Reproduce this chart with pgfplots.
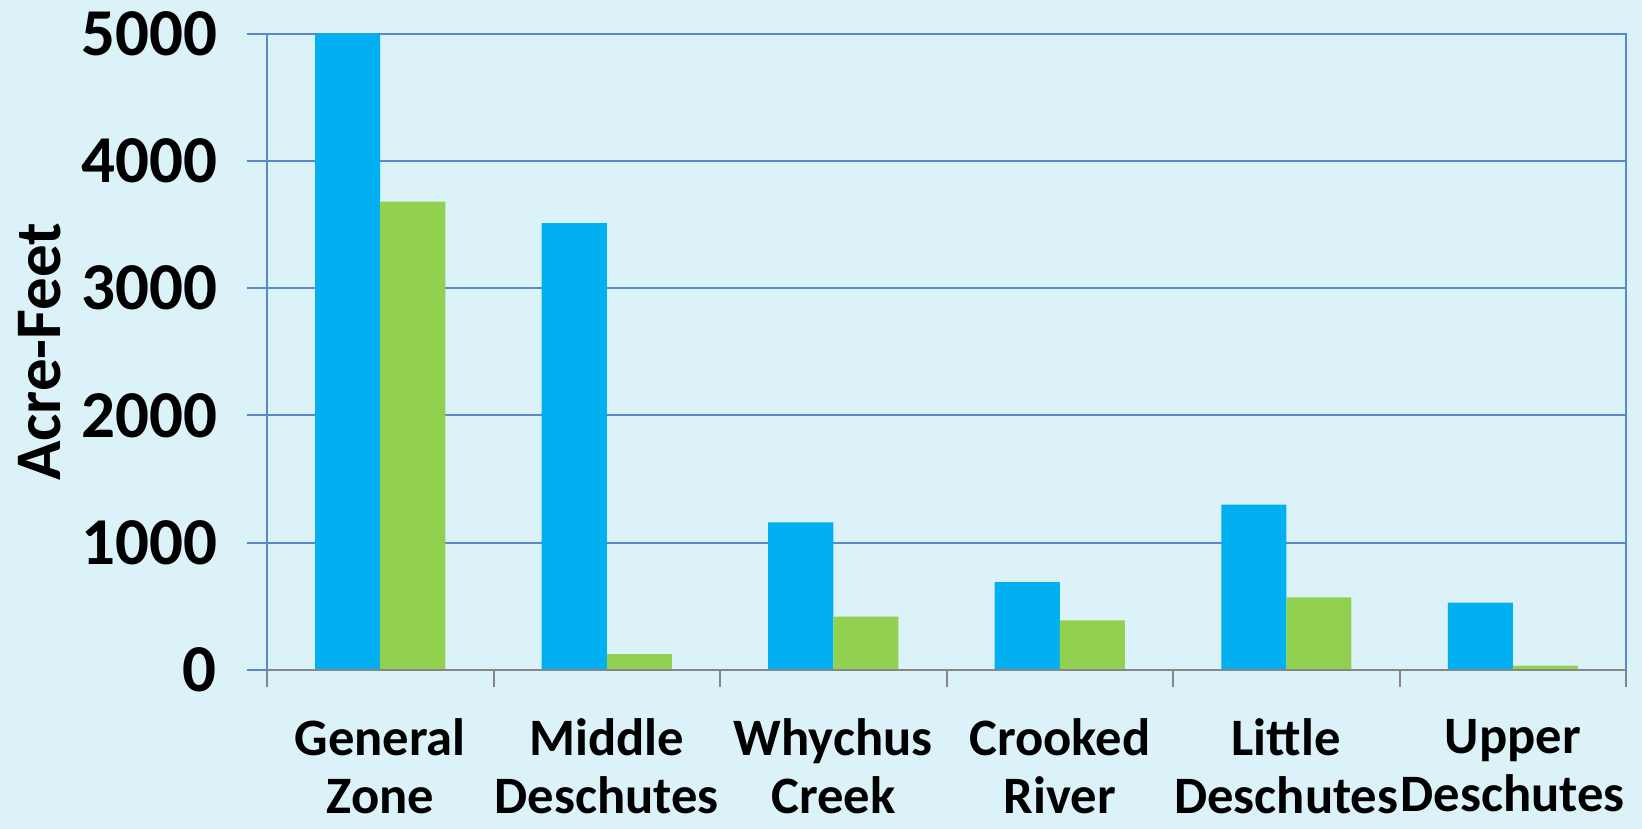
\documentclass[border=0pt]{standalone}
\usepackage{pgfplots}
\pgfplotsset{compat=1.18}
\usepackage{fontspec}
\setmainfont{Carlito}
\definecolor{bg}{HTML}{DBF3F8}
\definecolor{barblue}{HTML}{00B0F0}
\definecolor{bargreen}{HTML}{92D050}
\definecolor{gridblue}{HTML}{5A8AC6}
\definecolor{axgrey}{HTML}{868686}
\begin{document}
\begin{tikzpicture}
\path[use as bounding box, fill=bg] (-133.5pt,-79.5pt) rectangle (687.5pt,335pt);
\begin{axis}[
  at={(0,0)}, anchor=south west,
  scale only axis, width=679.5pt, height=318.25pt,
  xmin=-0.5, xmax=5.5, ymin=0, ymax=5000,
  ybar=0pt, bar width=0.287,
  axis on top=false,
  xtick={0,1,2,3,4,5},
  xticklabels={General\\Zone, Middle\\Deschutes, Whychus\\Creek, Crooked\\River, Little\\Deschutes, Upper\\Deschutes},
  minor xtick={-0.5,0.5,1.5,2.5,3.5,4.5,5.5},
  xtick pos=bottom, ytick pos=left,
  tick align=outside,
  x tick style={draw=none},
  minor x tick style={draw=axgrey, line width=1pt},
  minor tick length=8.5pt,
  ytick={0,1000,2000,3000,4000,5000},
  y tick style={draw=gridblue, line width=1pt},
  major tick length=10pt,
  ymajorgrids, grid style={draw=gridblue, line width=1pt},
  x axis line style={draw=none},
  y axis line style={draw=gridblue, line width=1pt},
  /pgf/number format/assume math mode=true,
  /pgf/number format/1000 sep={},
  yticklabel style={font=\fontsize{33.5}{33.5}\selectfont\bfseries, xshift=-11.5pt},
  xticklabel style={font=\fontsize{26.3}{29}\selectfont\bfseries, align=center, yshift=-11pt},
  ylabel={Acre-Feet},
  ylabel style={font=\fontsize{32.5}{32.5}\selectfont\bfseries, at={(axis description cs:-0.167,0.5)}, anchor=center, rotate=0},
]
\addplot[fill=barblue, draw=none] coordinates {(0,5000) (1,3510) (2,1160) (3,690) (4,1300) (5,530)};
\addplot[fill=bargreen, draw=none] coordinates {(0,3680) (1,125) (2,420) (3,390) (4,570) (5,35)};
\draw[axgrey, line width=1.5pt] (axis cs:-0.5,0) -- (axis cs:5.5,0);
\end{axis}
\end{tikzpicture}
\end{document}
